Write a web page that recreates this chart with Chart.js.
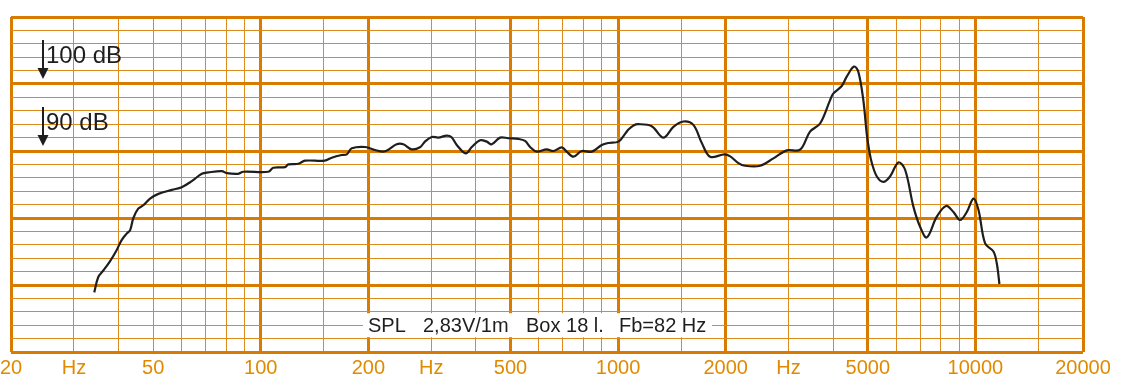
<!DOCTYPE html>
<html>
<head>
<meta charset="utf-8">
<script src="https://cdn.jsdelivr.net/npm/chart.js@4/dist/chart.umd.min.js"></script>
<style>
  html, body { margin: 0; padding: 0; background: #ffffff; }
  #wrap { width: 1131px; height: 386px; }
</style>
</head>
<body>
<div id="wrap"><canvas id="c" width="1131" height="386"></canvas></div>
<script>
// ---- Data ----
const freqHz = [34.2, 35.1, 36.3, 37.8, 39.5, 40.8, 42.2, 43.1, 44.0, 45.4, 46.9, 49.0, 51.7, 56.4, 60.1, 64.1, 68.4, 71.3, 77.8, 80.3, 86.5, 89.3, 105, 108.4, 116.9, 119.5, 127.4, 133, 151, 158, 168.5, 174, 179.8, 196, 208.8, 220, 227, 240, 250.6, 264.5, 279, 288, 301, 314, 331.5, 342, 353.6, 374.7, 389.5, 410.8, 428.9, 443, 467.4, 493, 526, 549, 567, 592, 631, 659, 696, 718, 750, 791, 844, 900, 940, 1002, 1047, 1069, 1104, 1139, 1242, 1339, 1428, 1523, 1624, 1715, 1809, 1985, 2060, 2171, 2266, 2496, 2720, 2965, 3231, 3444, 3675, 3920, 4004, 4226, 4363, 4574, 4703, 4856, 4963, 5046, 5130, 5298, 5525, 5768, 6087, 6356, 6705, 7000, 7309, 7795, 8277, 8677, 9060, 9459, 9876, 10200, 10644, 11232, 11477, 11672];
const splDb  = [68.9, 71.2, 72.2, 73.5, 75.2, 76.7, 77.7, 78.2, 80.0, 81.4, 81.9, 82.9, 83.6, 84.2, 84.6, 85.5, 86.6, 86.8, 87.0, 86.7, 86.6, 86.9, 86.9, 87.5, 87.6, 88.0, 88.1, 88.55, 88.55, 89.0, 89.4, 89.5, 90.4, 90.6, 90.15, 89.9, 90.15, 91.0, 91.0, 90.25, 90.55, 91.4, 92.1, 92.0, 92.3, 92.05, 90.9, 89.65, 90.6, 91.6, 91.4, 91.0, 92.0, 91.9, 91.8, 91.5, 90.6, 89.9, 90.25, 90.0, 90.55, 89.9, 89.15, 90.0, 89.9, 90.9, 91.2, 91.4, 92.6, 93.2, 93.8, 94.0, 93.7, 92.0, 93.6, 94.4, 93.9, 91.2, 89.15, 89.5, 89.2, 88.2, 87.8, 87.8, 88.9, 90.1, 90.2, 92.9, 94.1, 97.6, 98.6, 99.7, 101.1, 102.6, 101.8, 97.6, 92.6, 90.0, 88.2, 86.2, 85.4, 86.2, 88.3, 87.2, 81.7, 78.7, 77.1, 80.2, 81.8, 80.9, 79.7, 80.9, 82.9, 81.2, 76.2, 75.0, 73.2, 70.15];

// grid positions on the frequency axis
const xGridHz = [20, 30, 40, 50, 60, 70, 80, 90, 100, 150, 200, 300, 400, 500, 600, 700, 800, 900, 1000, 1500, 2000, 3000, 4000, 5000, 6000, 7000, 8000, 9000, 10000, 15000, 20000];
const xMajorHz = [20, 100, 200, 500, 1000, 2000, 5000, 10000, 20000];
// tick labels on the frequency axis
const xLabelHz   = [20, 30, 50, 100, 200, 300, 500, 1000, 2000, 3000, 5000, 10000, 20000];
const xLabelText = ['20', 'Hz', '50', '100', '200', 'Hz', '500', '1000', '2000', 'Hz', '5000', '10000', '20000'];

// level markers
const markerDb = [100, 90];
const markerText = ['100 dB', '90 dB'];
const captionParts = ['SPL', '2,83V/1m', 'Box 18 l.', 'Fb=82 Hz'];

const ORANGE_THICK = '#D97B00';
const ORANGE_THIN = '#DD8A1E';
const LABEL_ORANGE = '#E08A00';
const FONT = '"Liberation Sans", Arial, Helvetica, sans-serif';

const overlay = {
  id: 'overlay',
  afterDatasetsDraw(chart) {
    const ctx = chart.ctx;
    const ys = chart.scales.y;
    ctx.save();
    // dB markers with arrows
    ctx.fillStyle = '#1e1e1e';
    ctx.strokeStyle = '#1e1e1e';
    ctx.font = '24px ' + FONT;
    ctx.textBaseline = 'alphabetic';
    markerDb.forEach((db, i) => {
      const yLine = ys.getPixelForValue(db);
      const tip = yLine - 5;
      const ax = 43;
      ctx.lineWidth = 2;
      ctx.beginPath();
      ctx.moveTo(ax, tip - 39);
      ctx.lineTo(ax, tip - 8);
      ctx.stroke();
      ctx.beginPath();
      ctx.moveTo(ax - 5.5, tip - 11);
      ctx.lineTo(ax + 5.5, tip - 11);
      ctx.lineTo(ax, tip);
      ctx.closePath();
      ctx.fill();
      ctx.fillText(markerText[i], 46, yLine - 21);
    });
    // caption box
    const y64 = ys.getPixelForValue(64);
    ctx.fillStyle = '#ffffff';
    ctx.fillRect(363, y64 - 12, 349, 24);
    ctx.fillStyle = '#1e1e1e';
    ctx.font = '20px ' + FONT;
    ctx.textBaseline = 'middle';
    const xs = [368, 423, 526, 619];
    captionParts.forEach((t, i) => ctx.fillText(t, xs[i], y64 + 1));
    ctx.restore();
  }
};

new Chart(document.getElementById('c'), {
  type: 'line',
  data: {
    datasets: [{
      data: freqHz.map((f, i) => ({ x: f, y: splDb[i] })),
      borderColor: '#1e1e1e',
      borderWidth: 2.2,
      pointRadius: 0,
      fill: false,
      tension: 0.35
    }]
  },
  options: {
    responsive: false,
    animation: false,
    layout: { padding: { top: 17, left: 11, right: 48, bottom: 0 } },
    plugins: { legend: { display: false }, tooltip: { enabled: false } },
    scales: {
      x: {
        type: 'logarithmic',
        min: 20,
        max: 20000,
        afterBuildTicks: (scale) => { scale.ticks = xGridHz.map(v => ({ value: v })); },
        afterFit: (scale) => { scale.height = 34; scale.paddingLeft = 0; scale.paddingRight = 0; },
        border: { display: false },
        grid: {
          drawTicks: false,
          color: (c) => (c.tick && xMajorHz.includes(c.tick.value)) ? ORANGE_THICK : ORANGE_THIN,
          lineWidth: (c) => (c.tick && xMajorHz.includes(c.tick.value)) ? 3 : 1
        },
        ticks: {
          autoSkip: false,
          maxRotation: 0,
          minRotation: 0,
          padding: 4,
          color: LABEL_ORANGE,
          font: { family: FONT, size: 20 },
          callback: (v) => {
            const k = xLabelHz.indexOf(v);
            return k >= 0 ? xLabelText[k] : '';
          }
        }
      },
      y: {
        type: 'linear',
        min: 60,
        max: 110,
        afterFit: (scale) => { scale.width = 0; scale.paddingTop = 0; scale.paddingBottom = 0; },
        border: { display: false },
        grid: {
          drawTicks: false,
          color: (c) => (c.tick && c.tick.value % 10 === 0) ? ORANGE_THICK : ORANGE_THIN,
          lineWidth: (c) => (c.tick && c.tick.value % 10 === 0) ? 3 : 1
        },
        ticks: { display: false, stepSize: 2 }
      }
    }
  },
  plugins: [overlay]
});
</script>
</body>
</html>
